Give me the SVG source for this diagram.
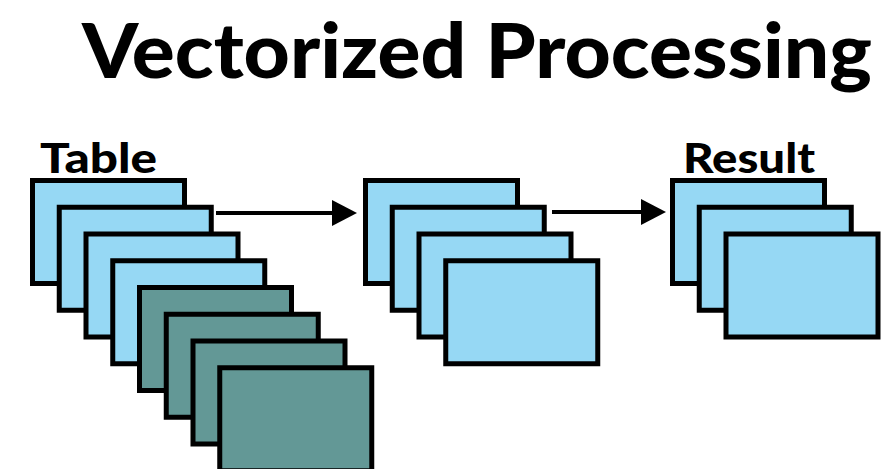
<svg xmlns="http://www.w3.org/2000/svg" width="883" height="469" viewBox="0 0 883 469">
  <style>
    .sheet { stroke: #000; stroke-width: 5; }
    .blue { fill: #96D8F4; }
    .teal { fill: #639896; }
    .title { font-family: Lato, "Open Sans", "Liberation Sans", sans-serif; font-weight: 900; fill: #000; }
    .conn { stroke: #000; stroke-width: 4; fill: none; }
  </style>
  <defs>
    <rect id="page" width="152" height="103"/>
  </defs>
  <rect width="883" height="469" fill="#fff"/>

  <text class="title" x="82" y="78" font-size="76" textLength="790" lengthAdjust="spacingAndGlyphs">Vectorized Processing</text>

  <g id="table">
    <text class="title" x="40" y="173" font-size="41" textLength="117" lengthAdjust="spacingAndGlyphs">Table</text>
    <use href="#page" class="sheet blue" x="32.5" y="180.5"/>
    <use href="#page" class="sheet blue" x="59.25" y="207.25"/>
    <use href="#page" class="sheet blue" x="86" y="234"/>
    <use href="#page" class="sheet blue" x="112.75" y="260.75"/>
    <use href="#page" class="sheet teal" x="139.5" y="287.5"/>
    <use href="#page" class="sheet teal" x="166.25" y="314.25"/>
    <use href="#page" class="sheet teal" x="193" y="341"/>
    <use href="#page" class="sheet teal" x="219.75" y="367.75"/>
  </g>

  <g id="intermediate">
    <use href="#page" class="sheet blue" x="365.5" y="180.5"/>
    <use href="#page" class="sheet blue" x="392.25" y="207.25"/>
    <use href="#page" class="sheet blue" x="419" y="234"/>
    <use href="#page" class="sheet blue" x="445.75" y="260.75"/>
  </g>

  <g id="result">
    <text class="title" x="683" y="173" font-size="41" textLength="132" lengthAdjust="spacingAndGlyphs">Result</text>
    <use href="#page" class="sheet blue" x="672.5" y="180.5"/>
    <use href="#page" class="sheet blue" x="699.25" y="207.25"/>
    <use href="#page" class="sheet blue" x="726" y="234"/>
  </g>

  <g id="connectors">
    <line class="conn" x1="216" y1="213" x2="334" y2="213"/>
    <polygon points="332,200 357,213 332,226" fill="#000"/>
    <line class="conn" x1="552" y1="212" x2="643" y2="212"/>
    <polygon points="641,199 666,212 641,225" fill="#000"/>
  </g>
</svg>
